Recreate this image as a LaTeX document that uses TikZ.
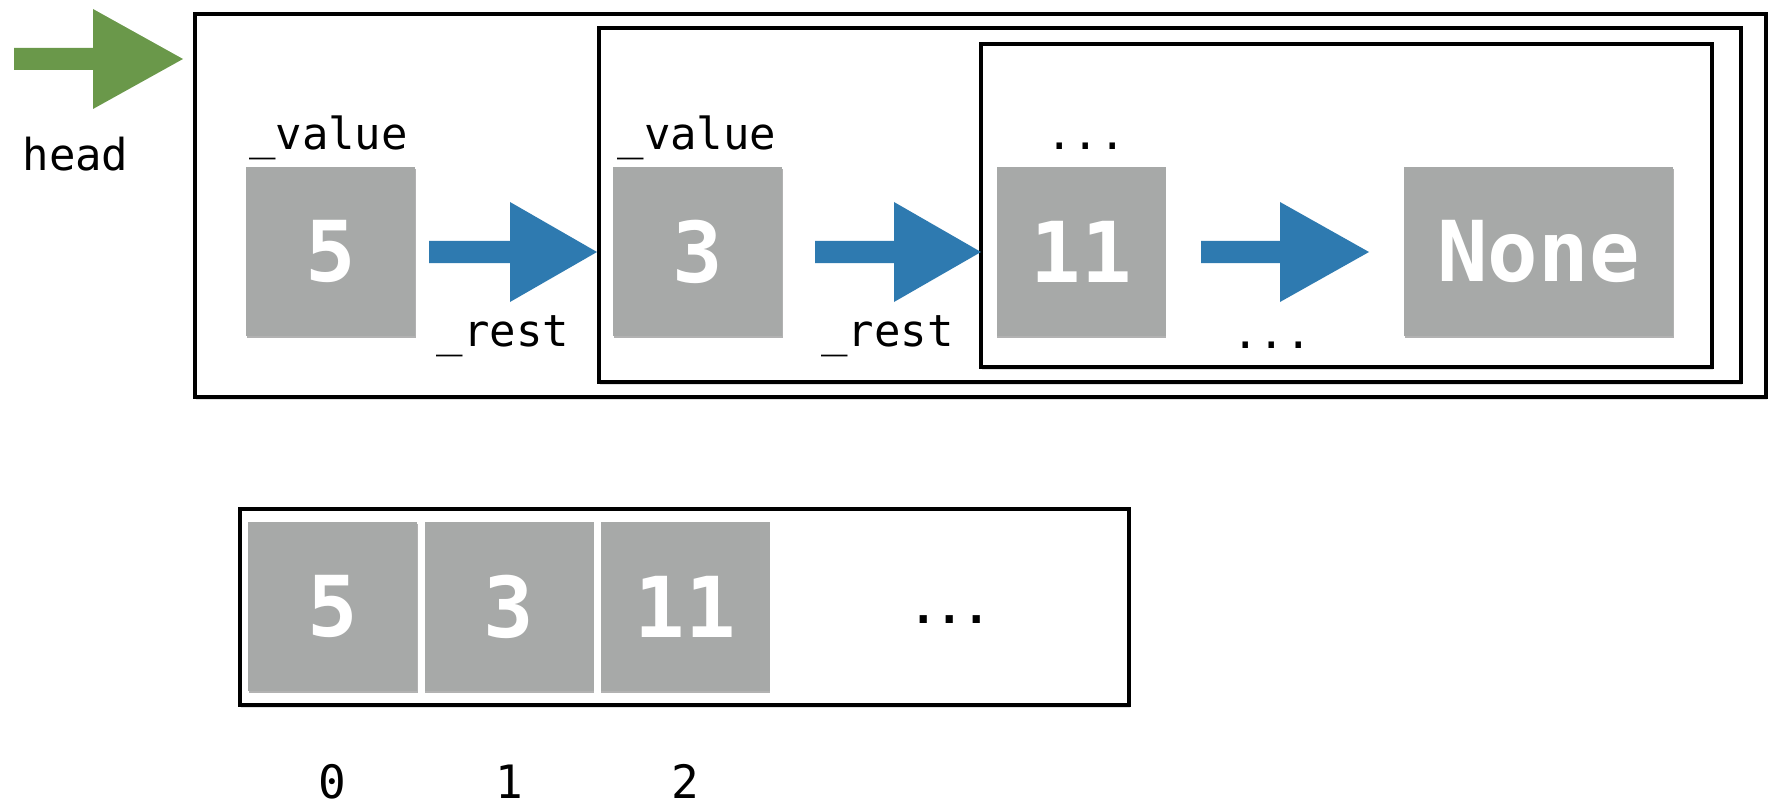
\documentclass[tikz,border=0pt]{standalone}
\usepackage{fontspec}
\setmonofont{DejaVu Sans Mono}
\usetikzlibrary{shadows,fit}
\definecolor{boxgray}{RGB}{167,169,168}
\definecolor{arrblue}{RGB}{46,122,176}
\definecolor{arrgreen}{RGB}{106,152,74}
\newcommand\lblfont{\ttfamily\fontsize{22}{26}\selectfont}
\newcommand\digfont{\ttfamily\bfseries\fontsize{42}{48}\selectfont}
\newcommand\idxfont{\ttfamily\fontsize{23}{27}\selectfont}
% color, x start, x head base, x tip, y centre
\newcommand\fatarrow[5]{%
  \fill[#1] (#2,#5-11) -- (#3,#5-11) -- (#3,#5-50) -- (#4,#5) -- (#3,#5+50) -- (#3,#5+11) -- (#2,#5+11) -- cycle;}
\tikzset{
  cell/.style={fill=boxgray, minimum width=84.5pt, minimum height=84.5pt, inner sep=0pt,
    text=white, font=\digfont,
    drop shadow={shadow xshift=0.4pt, shadow yshift=-1.2pt, opacity=0.3, fill=black}},
  frame/.style={draw=black, line width=2pt, fill=white, inner sep=0pt,
    drop shadow={shadow xshift=0.6pt, shadow yshift=-1.5pt, opacity=0.12, fill=black}},
  lbl/.style={font=\lblfont, anchor=base, inner sep=0pt},
  idx/.style={font=\idxfont, anchor=base, inner sep=0pt},
}
\begin{document}
\begin{tikzpicture}[x=0.5pt, y=-0.5pt]
\useasboundingbox (0,0) rectangle (1769,808);
% nested frames
\node[frame, fit={(195,14) (1766,397)}] (outer) {};
\node[frame, fit={(599,28) (1741,382)}] (rest1) {};
\node[frame, fit={(981,44) (1712,367)}] (rest2) {};
% head arrow
\fatarrow{arrgreen}{14}{93}{183}{59}
\node[lbl] (head) at (75.5,170) {head};
% linked list cells
\node[cell] (v5) at (330.5,251.5) {5};
\node[cell] (v3) at (697.5,251.5) {3};
\node[cell] (v11) at (1081,251.5) {11};
\node[cell, minimum width=134.5pt] (none) at (1538.5,251.5) {None};
\node[lbl] (val1) at (328.5,150) {\_value};
\node[lbl] (val2) at (697,150) {\_value};
\node[lbl] (dots1) at (1086,150) {...};
\node[lbl] (rst1) at (503,346) {\_rest};
\node[lbl] (rst2) at (887.5,346) {\_rest};
\node[lbl] (dots2) at (1272,348) {...};
\fatarrow{arrblue}{429}{510}{597}{252}
\fatarrow{arrblue}{815}{894}{981}{252}
\fatarrow{arrblue}{1201}{1280}{1369}{252}
% array
\node[frame, fit={(240,509) (1129,705)}] (arr) {};
\node[cell] (a0) at (332.5,606.5) {5};
\node[cell] (a1) at (509,606.5) {3};
\node[cell] (a2) at (685,606.5) {11};
\node[lbl, font=\lblfont\bfseries] (adots) at (950,623) {...};
\node[idx] (i0) at (332.5,798) {0};
\node[idx] (i1) at (509,798) {1};
\node[idx] (i2) at (685,798) {2};
\end{tikzpicture}
\end{document}
